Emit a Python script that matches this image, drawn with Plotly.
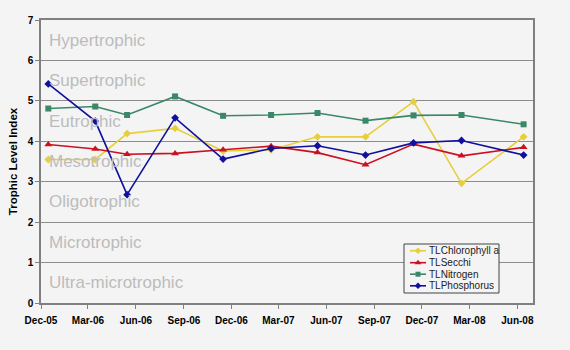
import plotly.graph_objects as go

dates = ["2005-12-15", "2006-03-15", "2006-05-15", "2006-08-15", "2006-11-15",
         "2007-02-15", "2007-05-15", "2007-08-15", "2007-11-15", "2008-02-15", "2008-06-13"]

chlorophyll = [3.55, 3.55, 4.19, 4.32, 3.76, 3.79, 4.11, 4.11, 4.98, 2.96, 4.11]
secchi = [3.92, 3.81, 3.68, 3.70, 3.79, 3.88, 3.72, 3.42, 3.93, 3.64, 3.85]
nitrogen = [4.81, 4.86, 4.65, 5.11, 4.63, 4.65, 4.70, 4.51, 4.64, 4.65, 4.42]
phosphorus = [5.42, 4.50, 2.68, 4.58, 3.56, 3.82, 3.89, 3.66, 3.96, 4.02, 3.66]

tick_dates = ["2005-12-01", "2006-03-01", "2006-06-01", "2006-09-01", "2006-12-01",
              "2007-03-01", "2007-06-01", "2007-09-01", "2007-12-01", "2008-03-01", "2008-06-01"]
tick_labels = ["Dec-05", "Mar-06", "Jun-06", "Sep-06", "Dec-06", "Mar-07",
               "Jun-07", "Sep-07", "Dec-07", "Mar-08", "Jun-08"]

bands = ["Ultra-microtrophic", "Microtrophic", "Oligotrophic", "Mesotrophic",
         "Eutrophic", "Supertrophic", "Hypertrophic"]

series_names = ["TLChlorophyll a", "TLSecchi", "TLNitrogen", "TLPhosphorus"]
series_values = [chlorophyll, secchi, nitrogen, phosphorus]
series_colors = ["#e6cf3c", "#cc1020", "#3a8868", "#10109c"]
series_symbols = ["diamond", "triangle-up", "square", "diamond"]
series_sizes = [6, 7, 6, 6]

FONT = "Liberation Sans, Arial"

# plot area in pixels (for the compact legend overlay)
L, R, T, B = 41, 533, 20, 303

fig = go.Figure()
for name, vals, col, sym, sz in zip(series_names, series_values, series_colors,
                                     series_symbols, series_sizes):
    fig.add_trace(go.Scatter(
        x=dates, y=vals, name=name, mode="lines+markers",
        line=dict(color=col, width=1.6),
        marker=dict(color=col, symbol=sym, size=sz),
        showlegend=False,
    ))

for i, b in enumerate(bands):
    fig.add_annotation(
        x=0.013, xref="paper", y=i + 0.5, yref="y", text=b, showarrow=False,
        xanchor="left", yanchor="middle",
        font=dict(family=FONT, size=17, color="#bcbcbc"),
    )

# compact legend (Excel style), drawn on a pixel-coordinate overlay axis
leg_x0, leg_x1, leg_y0, leg_y1 = 404, 499, 244, 293
fig.add_trace(go.Scatter(
    x=[leg_x0, leg_x1, leg_x1, leg_x0, leg_x0],
    y=[leg_y0, leg_y0, leg_y1, leg_y1, leg_y0],
    xaxis="x2", yaxis="y2", mode="lines", fill="toself",
    fillcolor="#f4f4f4", line=dict(color="#444444", width=1),
    showlegend=False, hoverinfo="skip",
))
row_y = [250.7, 262.7, 274.2, 285.8]
for name, col, sym, sz, yy in zip(series_names, series_colors, series_symbols,
                                  series_sizes, row_y):
    fig.add_trace(go.Scatter(
        x=[410, 418, 426], y=[yy, yy, yy], xaxis="x2", yaxis="y2",
        mode="lines", line=dict(color=col, width=1.6),
        showlegend=False, hoverinfo="skip",
    ))
    fig.add_trace(go.Scatter(
        x=[418], y=[yy], xaxis="x2", yaxis="y2",
        mode="markers", marker=dict(color=col, symbol=sym, size=sz - 1),
        showlegend=False, hoverinfo="skip",
    ))
    fig.add_annotation(
        x=427, y=yy, xref="x2", yref="y2", text=name, showarrow=False,
        xanchor="left", yanchor="middle",
        font=dict(family=FONT, size=10, color="#222222"),
    )

fig.update_layout(
    width=570, height=350,
    margin=dict(l=L, r=570 - R, t=T, b=350 - B),
    paper_bgcolor="#f4f4f4", plot_bgcolor="#f4f4f4",
    font=dict(family=FONT, color="#000000"),
    showlegend=False,
    xaxis=dict(
        type="date", range=["2005-12-01", "2008-07-01"],
        tickmode="array", tickvals=tick_dates, ticktext=tick_labels,
        showgrid=False, zeroline=False, automargin=False,
        showline=True, linecolor="#808080", linewidth=1.5, mirror=True,
        ticks="outside", ticklen=4, tickcolor="#808080",
        ticklabelstandoff=3,
        tickfont=dict(size=10, family=FONT, weight="bold"),
    ),
    yaxis=dict(
        range=[0, 7], dtick=1,
        showgrid=True, gridcolor="#8c8c8c", gridwidth=1.3,
        zeroline=False, automargin=False,
        showline=True, linecolor="#808080", linewidth=1.5, mirror=True,
        ticks="outside", ticklen=4, tickcolor="#808080",
        tickfont=dict(size=10, family=FONT, weight="bold"),
        title=dict(text="Trophic Level Index", standoff=8,
                   font=dict(size=11.5, family=FONT, weight="bold")),
    ),
    xaxis2=dict(overlaying="x", range=[L, R], visible=False, fixedrange=True),
    yaxis2=dict(overlaying="y", range=[B, T], visible=False, fixedrange=True),
)

fig.write_html("out.html")
